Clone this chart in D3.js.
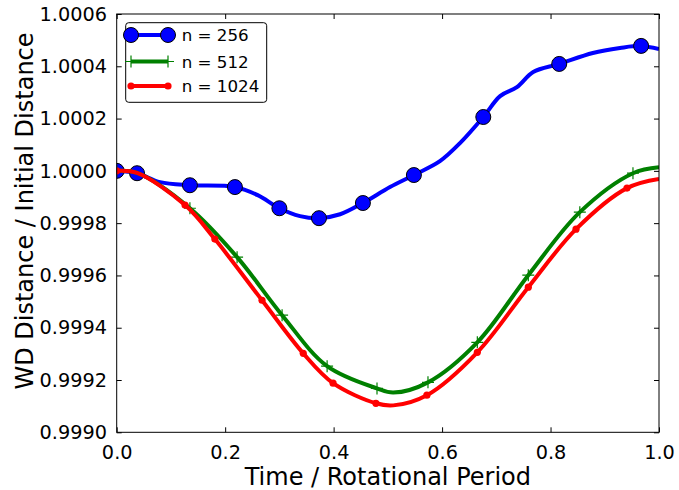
<!DOCTYPE html>
<html>
<head>
<meta charset="utf-8">
<script src="https://cdn.jsdelivr.net/npm/d3@7"></script>
<style>
  body { margin: 0; background: #fff; }
  text { font-family: "DejaVu Sans", sans-serif; }
</style>
</head>
<body>
<svg id="chart" width="679" height="490"></svg>
<script>
// n = 256 : line samples and marker samples (time, distance ratio)
var blueLineT = [0, 0.0375, 0.08, 0.135, 0.218, 0.26, 0.30, 0.338, 0.373, 0.412, 0.454, 0.504, 0.548, 0.596, 0.633, 0.676, 0.707, 0.738, 0.768, 0.816, 0.878, 0.928, 0.967, 1.0];
var blueLineV = [1.0, 0.999991, 0.999957, 0.999945, 0.999938, 0.999907, 0.999857, 0.999827, 0.999819, 0.999834, 0.999877, 0.999938, 0.999984, 1.000037, 1.000106, 1.000206, 1.000286, 1.000320, 1.000378, 1.000409, 1.000451, 1.000470, 1.000478, 1.000466];
var blueMarkT = [0, 0.0375, 0.135, 0.218, 0.30, 0.373, 0.454, 0.548, 0.676, 0.816, 0.967];
var blueMarkV = [1.0, 0.999991, 0.999945, 0.999938, 0.999857, 0.999819, 0.999877, 0.999984, 1.000206, 1.000409, 1.000478];

// n = 512
var greenLineT = [0, 0.0375, 0.135, 0.222, 0.305, 0.388, 0.480, 0.51, 0.574, 0.665, 0.759, 0.854, 0.952, 1.0];
var greenLineV = [1.0, 0.999992, 0.999857, 0.999670, 0.999448, 0.999253, 0.999168, 0.999152, 0.999191, 0.999344, 0.999601, 0.999842, 0.999991, 1.000014];
var greenMarkT = [0, 0.135, 0.222, 0.305, 0.388, 0.480, 0.574, 0.665, 0.759, 0.854, 0.952];
var greenMarkV = [1.0, 0.999857, 0.999670, 0.999448, 0.999253, 0.999168, 0.999191, 0.999344, 0.999601, 0.999842, 0.999991];

// n = 1024
var redLineT = [0, 0.0375, 0.126, 0.181, 0.268, 0.344, 0.399, 0.478, 0.51, 0.572, 0.665, 0.759, 0.847, 0.941, 1.0];
var redLineV = [1.0, 0.999992, 0.999869, 0.999739, 0.999505, 0.999302, 0.999188, 0.999111, 0.999103, 0.999142, 0.999306, 0.999555, 0.999777, 0.999934, 0.999969];
var redMarkT = [0, 0.126, 0.181, 0.268, 0.344, 0.399, 0.478, 0.572, 0.665, 0.759, 0.847, 0.941];
var redMarkV = [1.0, 0.999869, 0.999739, 0.999505, 0.999302, 0.999188, 0.999111, 0.999142, 0.999306, 0.999555, 0.999777, 0.999934];

var xTicks = [0, 0.2, 0.4, 0.6, 0.8, 1.0];
var yTicks = [0.9990, 0.9992, 0.9994, 0.9996, 0.9998, 1.0000, 1.0002, 1.0004, 1.0006];
var legendLabels = ["n = 256", "n = 512", "n = 1024"];

var svg = d3.select("#chart");
var dims = { left: 116.7, right: 659, top: 14, bottom: 432.3 };

var xScale = d3.scaleLinear().domain([0, 1]).range([dims.left, dims.right]);
var yScale = d3.scaleLinear().domain([0.9990, 1.0006]).range([dims.bottom, dims.top]);

// clip for the plot area
svg.append("defs").append("clipPath").attr("id", "plotclip")
    .append("rect")
    .attr("x", dims.left).attr("y", dims.top)
    .attr("width", dims.right - dims.left).attr("height", dims.bottom - dims.top);

//Axes with inward ticks on all four sides
function styleAxis(g) {
    g.select(".domain").remove();
    g.selectAll("line").attr("stroke", "#000").attr("stroke-width", 1);
    g.selectAll("text").attr("font-size", 19.3).attr("fill", "#000")
        .style("font-family", "DejaVu Sans, sans-serif");
}
svg.append("g").attr("transform", `translate(0,${dims.bottom})`)
    .call(d3.axisBottom(xScale).tickValues(xTicks).tickFormat(d3.format(".1f"))
        .tickSizeInner(-5).tickSizeOuter(0).tickPadding(13.3))
    .call(styleAxis);
svg.append("g").attr("transform", `translate(0,${dims.top})`)
    .call(d3.axisTop(xScale).tickValues(xTicks).tickFormat("")
        .tickSizeInner(-5).tickSizeOuter(0))
    .call(styleAxis);
svg.append("g").attr("transform", `translate(${dims.left},0)`)
    .call(d3.axisLeft(yScale).tickValues(yTicks).tickFormat(d3.format(".4f"))
        .tickSizeInner(-5).tickSizeOuter(0).tickPadding(9.7))
    .call(styleAxis);
svg.append("g").attr("transform", `translate(${dims.right},0)`)
    .call(d3.axisRight(yScale).tickValues(yTicks).tickFormat("")
        .tickSizeInner(-5).tickSizeOuter(0))
    .call(styleAxis);

var plot = svg.append("g").attr("clip-path", "url(#plotclip)");

var line = d3.line()
    .x(d => xScale(d[0]))
    .y(d => yScale(d[1]))
    .curve(d3.curveCatmullRom.alpha(0.5));

function zipPts(ts, vs) { return ts.map((t, i) => [t, vs[i]]); }

//Blue series
plot.append("path").datum(zipPts(blueLineT, blueLineV))
    .attr("fill", "none").attr("stroke", "#0000ff").attr("stroke-width", 4)
    .attr("stroke-linejoin", "round").attr("d", line);
plot.selectAll(".blue-dot").data(zipPts(blueMarkT, blueMarkV)).enter()
    .append("circle").attr("class", "blue-dot")
    .attr("cx", d => xScale(d[0])).attr("cy", d => yScale(d[1]))
    .attr("r", 7.5).attr("fill", "#0000ff").attr("stroke", "#000").attr("stroke-width", 1);

//Green series
plot.append("path").datum(zipPts(greenLineT, greenLineV))
    .attr("fill", "none").attr("stroke", "#008000").attr("stroke-width", 4)
    .attr("stroke-linejoin", "round").attr("d", line);
plot.selectAll(".green-plus").data(zipPts(greenMarkT, greenMarkV)).enter()
    .append("path").attr("class", "green-plus")
    .attr("d", d => {
        var cx = xScale(d[0]), cy = yScale(d[1]);
        return `M${cx - 6},${cy}H${cx + 6}M${cx},${cy - 6}V${cy + 6}`;
    })
    .attr("stroke", "#008000").attr("stroke-width", 1.2).attr("fill", "none");

//Red series
plot.append("path").datum(zipPts(redLineT, redLineV))
    .attr("fill", "none").attr("stroke", "#ff0000").attr("stroke-width", 4)
    .attr("stroke-linejoin", "round").attr("d", line);
plot.selectAll(".red-dot").data(zipPts(redMarkT, redMarkV)).enter()
    .append("circle").attr("class", "red-dot")
    .attr("cx", d => xScale(d[0])).attr("cy", d => yScale(d[1]))
    .attr("r", 3.6).attr("fill", "#ff0000");

//Frame
svg.append("rect")
    .attr("x", dims.left).attr("y", dims.top)
    .attr("width", dims.right - dims.left).attr("height", dims.bottom - dims.top)
    .attr("fill", "none").attr("stroke", "#000").attr("stroke-width", 1);

//Axis titles
svg.append("text")
    .attr("x", (dims.left + dims.right) / 2).attr("y", 484.5)
    .attr("text-anchor", "middle").attr("font-size", 24)
    .text("Time / Rotational Period");
svg.append("text")
    .attr("transform", "translate(33,211) rotate(-90)")
    .attr("text-anchor", "middle").attr("font-size", 24)
    .text("WD Distance / Initial Distance");

//Legend
var legend = svg.append("g");
legend.append("rect")
    .attr("x", 125.7).attr("y", 22.7).attr("width", 141).attr("height", 79.6)
    .attr("rx", 3).attr("fill", "#fff").attr("stroke", "#000").attr("stroke-width", 1);
var rowY = [35, 61.5, 86];
var colors = ["#0000ff", "#008000", "#ff0000"];
legendLabels.forEach((lab, i) => {
    var y = rowY[i];
    legend.append("line").attr("x1", 131).attr("x2", 168).attr("y1", y).attr("y2", y)
        .attr("stroke", colors[i]).attr("stroke-width", 4);
    [131, 168].forEach(x => {
        if (i === 0) {
            legend.append("circle").attr("cx", x).attr("cy", y).attr("r", 7.5)
                .attr("fill", "#0000ff").attr("stroke", "#000").attr("stroke-width", 1);
        } else if (i === 1) {
            legend.append("path").attr("d", `M${x - 6},${y}H${x + 6}M${x},${y - 6}V${y + 6}`)
                .attr("stroke", "#008000").attr("stroke-width", 1.2);
        } else {
            legend.append("circle").attr("cx", x).attr("cy", y).attr("r", 3.6).attr("fill", "#ff0000");
        }
    });
    legend.append("text").attr("x", 181.7).attr("y", y).attr("dy", "0.36em")
        .attr("font-size", 16.7).text(lab);
});
</script>
</body>
</html>
